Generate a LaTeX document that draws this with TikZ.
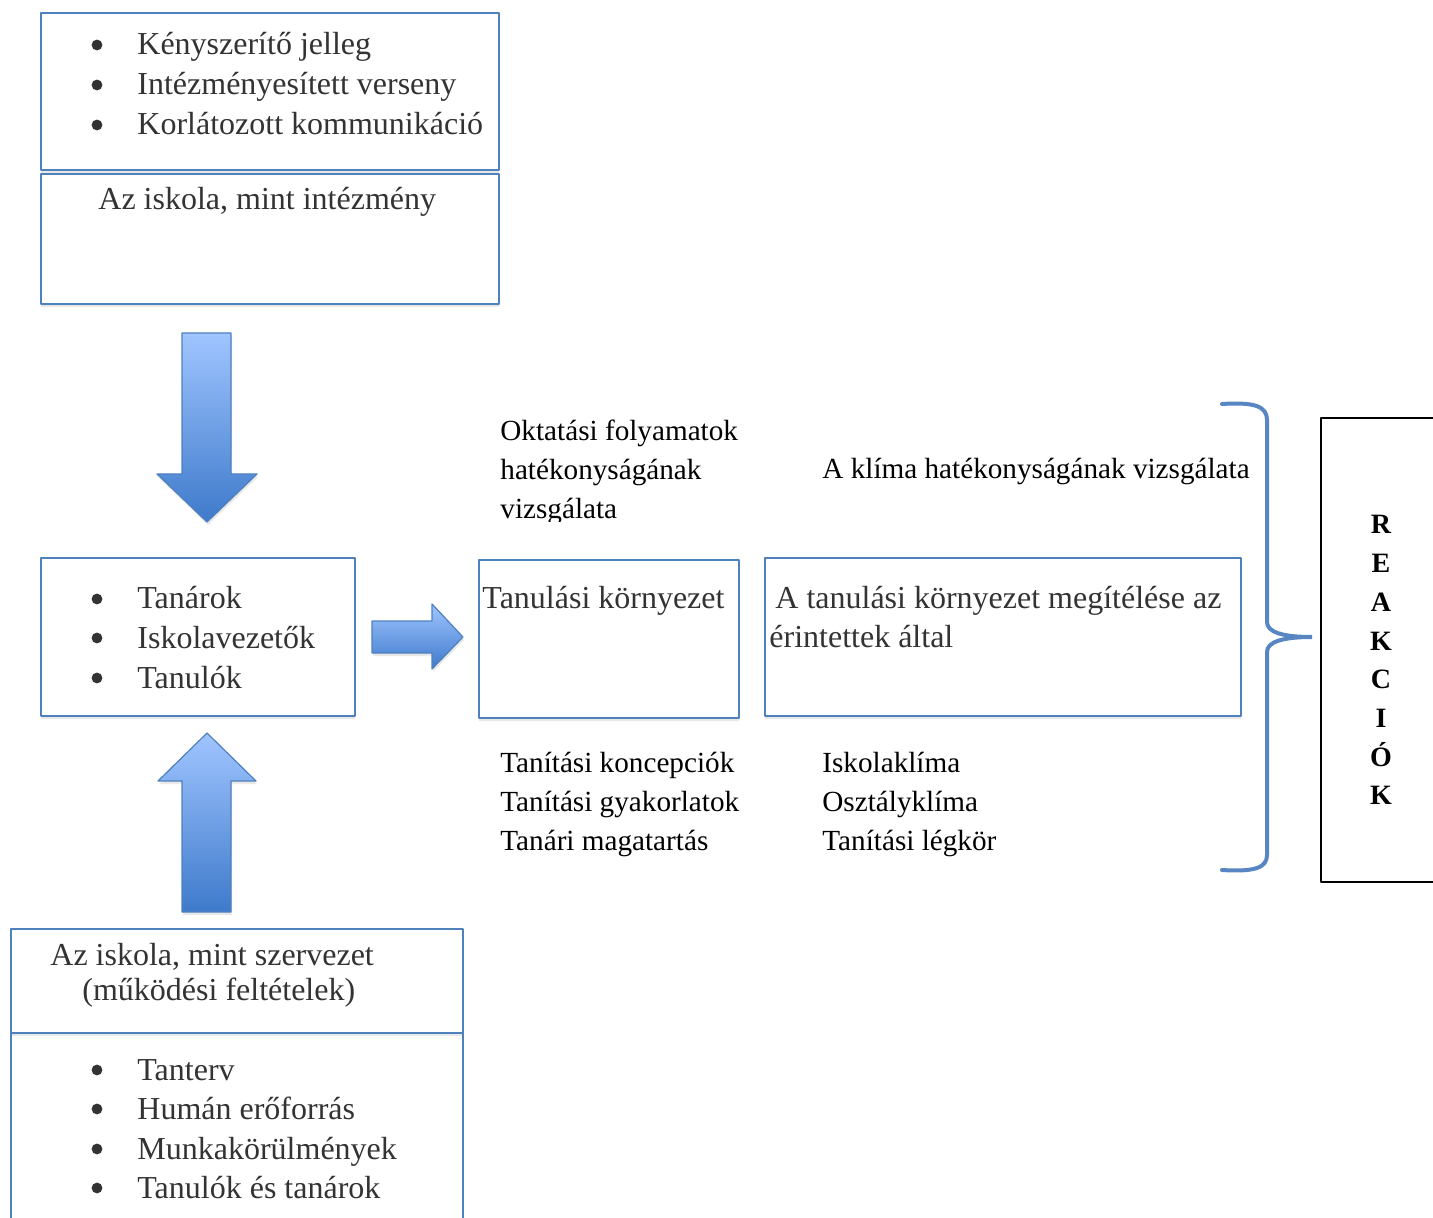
\documentclass[tikz,border=0pt]{standalone}
\usepackage{fontspec}
\setmainfont{Liberation Serif}
\usetikzlibrary{calc,shadows}
\usepackage{tkz-euclide}
\definecolor{BoxClr}{RGB}{79,129,189}
\definecolor{BraceClr}{RGB}{88,134,194}
\definecolor{ArrowTop}{RGB}{160,197,255}
\definecolor{ArrowBot}{RGB}{62,122,203}
\definecolor{InkClr}{RGB}{51,51,51}
\newcommand\bitem[3]{\fill[InkClr] (97,#2-10) circle (2.7pt);
  \node[boxtxt] (#1) at (137,#2) {#3};}

\begin{document}
\begin{tikzpicture}[x=.5pt,y=-.5pt,
  boxtxt/.style={inner sep=0pt,anchor=base west,text=InkClr,font=\fontsize{16}{19}\selectfont},
  txt/.style={inner sep=0pt,anchor=base west,font=\fontsize{14.6}{17}\selectfont},
  reak/.style={inner sep=0pt,anchor=base,font=\fontsize{14}{14}\selectfont\bfseries},
  boxline/.style={draw=BoxClr,line width=1pt,fill=white,
    drop shadow={opacity=.18,shadow xshift=0pt,shadow yshift=-1.5pt}},
  arrowfill/.style={draw=BoxClr,line width=.6pt,top color=ArrowTop,bottom color=ArrowBot,
    drop shadow={opacity=.18,shadow xshift=.5pt,shadow yshift=-1.5pt}}]
\useasboundingbox (0,0) rectangle (1433,1218);
\clip (0,0) rectangle (1433,1218);

\tkzDefPoints{41/13/A1,499/13/A2,499/170/A3,41/170/A4,
  41/174/B1,499/174/B2,499/304/B3,41/304/B4,
  41/558/C1,355/558/C2,355/716/C3,41/716/C4,
  479/560/D1,739/560/D2,739/718/D3,479/718/D4,
  765/558/E1,1241/558/E2,1241/716/E3,765/716/E4,
  11/929/F1,463/929/F2,463/1033/F3,11/1033/F4,
  11/1033/G1,463/1033/G2,463/1245/G3,11/1245/G4,
  1321/418/H1,1450/418/H2,1450/882/H3,1321/882/H4}

% block arrows
\tkzDefPoints{182/333/P1,231/333/P2,231/474/P3,257/474/P4,207/522/P5,157/474/P6,182/474/P7}
\tkzDefPoints{207/733/Q1,256/781/Q2,231/781/Q3,231/912/Q4,182/912/Q5,182/781/Q6,158/781/Q7}
\tkzDefPoints{372/621/R1,432/621/R2,432/604/R3,463/637/R4,432/669/R5,432/653/R6,372/653/R7}

% brace
\tkzDefPoints{1222/404/S1,1267/420/S2,1267/622/S3,1312/637/S4,1267/652/S5,1267/855/S6,1222/870/S7}

\tkzDrawPolygon[boxline](B1,B2,B3,B4)
\tkzDrawPolygon[boxline](A1,A2,A3,A4)
\tkzDrawPolygon[boxline](C1,C2,C3,C4)
\tkzDrawPolygon[boxline](D1,D2,D3,D4)
\tkzDrawPolygon[boxline](E1,E2,E3,E4)
\tkzDrawPolygon[boxline](G1,G2,G3,G4)
\tkzDrawPolygon[boxline](F1,F2,F3,F4)
\tkzDrawPolygon[draw=black,line width=1pt](H1,H2,H3,H4)

\tkzDrawPolygon[arrowfill](P1,P2,P3,P4,P5,P6,P7)
\tkzDrawPolygon[arrowfill](Q1,Q2,Q3,Q4,Q5,Q6,Q7)
\tkzDrawPolygon[arrowfill](R1,R2,R3,R4,R5,R6,R7)

\draw[BraceClr,line width=2pt,line cap=round]
  (S1) .. controls ($(S1)+(32,-2)$) and ($(S2)+(0,-14)$) .. (S2) -- (S3)
  .. controls ($(S3)+(0,10)$) and ($(S4)+(-30,0)$) .. (S4)
  .. controls ($(S4)+(-30,0)$) and ($(S5)+(0,-10)$) .. (S5) -- (S6)
  .. controls ($(S6)+(0,13)$) and ($(S7)+(32,2)$) .. (S7);

% texts
\bitem{kenyszer}{55}{Kényszerítő jelleg}
\bitem{verseny}{95}{Intézményesített verseny}
\bitem{kommun}{135}{Korlátozott kommunikáció}
\node[boxtxt] (intezmeny) at (98,210) {Az iskola, mint intézmény};

\bitem{tanarok}{609}{Tanárok}
\bitem{vezetok}{648}{Iskolavezetők}
\bitem{tanulok}{688}{Tanulók}

\node[boxtxt] (kornyezet) at (482,608) {Tanulási környezet};
\node[boxtxt] (megitel) at (775,608) {A tanulási környezet megítélése az};
\node[boxtxt] (erintett) at (769,647) {érintettek által};

\node[txt] (oktatas) at (500,441) {Oktatási folyamatok};
\node[txt] (hatekony) at (500,480) {hatékonyságának};
\begin{scope}
\clip (480,400) rectangle (760,522);
\node[txt] (vizsgalat) at (500,519) {vizsgálata};
\end{scope}
\node[txt] (klima) at (822,479) {A klíma hatékonyságának vizsgálata};

\node[txt] (koncepc) at (500,772) {Tanítási koncepciók};
\node[txt] (gyakorl) at (500,811) {Tanítási gyakorlatok};
\node[txt] (magatart) at (500,850) {Tanári magatartás};
\node[txt] (iskklima) at (822,772) {Iskolaklíma};
\node[txt] (osztklima) at (822,811) {Osztályklíma};
\node[txt] (legkor) at (822,850) {Tanítási légkör};

\node[boxtxt] (szerv) at (50,965) {Az iskola, mint szervezet};
\node[boxtxt] (mukod) at (82,1000) {(működési feltételek)};
\bitem{tanterv}{1080}{Tanterv}
\bitem{human}{1119}{Humán erőforrás}
\bitem{munka}{1159}{Munkakörülmények}
\bitem{tanulokes}{1198}{Tanulók és tanárok}

\foreach \l [count=\i] in {R,E,A,K,C,I,Ó,K}
  \node[reak] (reak\i) at (1381,{534+(\i-1)*38.7}) {\l};

\end{tikzpicture}
\end{document}
